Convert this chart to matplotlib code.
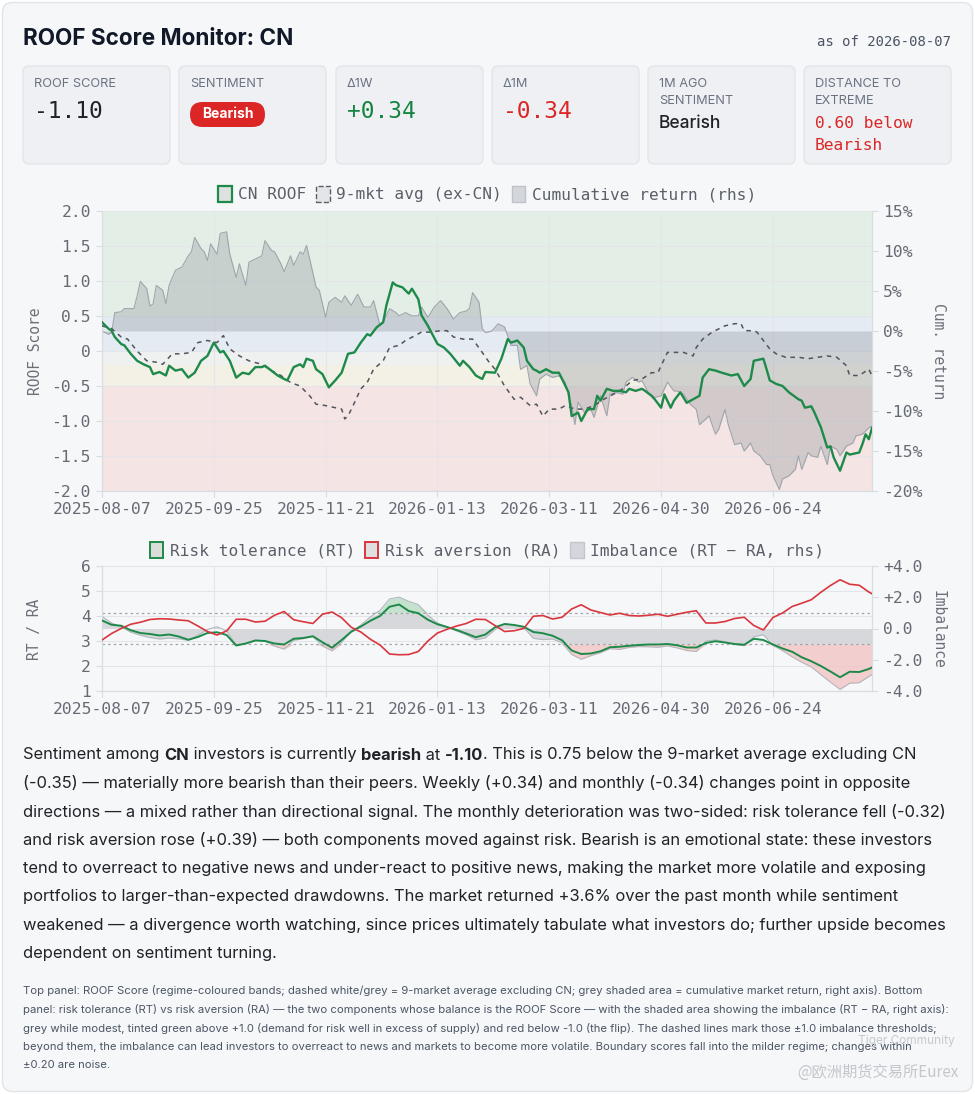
import numpy as np
import matplotlib.pyplot as plt
from matplotlib.patches import FancyBboxPatch, Patch

# ---------------- data ----------------
tick_days = [0, 35, 70, 105, 140, 175, 210]
tick_dates = ['2025-08-07', '2025-09-25', '2025-11-21', '2026-01-13',
              '2026-03-11', '2026-04-30', '2026-06-24']
last_day = 241

# CN ROOF score (trading-day index, value)
roof_day = [0, 2, 3, 4, 6, 7, 9, 11, 13, 15,
            16, 18, 20, 21, 23, 25, 27, 29, 31, 33,
            35, 37, 38, 40, 42, 44, 46, 48, 50, 51,
            53, 55, 57, 58, 60, 62, 63, 64, 66, 67,
            69, 71, 73, 75, 77, 79, 81, 83, 84, 86,
            88, 89, 91, 92, 94, 96, 97, 99, 100, 102,
            105, 107, 109, 112, 113, 115, 117, 119, 120, 123,
            125, 127, 128, 130, 132, 133, 135, 136, 137, 139,
            141, 143, 144, 146, 147, 149, 150, 152, 154, 155,
            156, 158, 160, 162, 164, 165, 167, 169, 170, 172,
            173, 175, 176, 178, 179, 181, 183, 185, 187, 188,
            190, 192, 194, 197, 199, 201, 203, 204, 207, 208,
            209, 211, 213, 215, 218, 219, 220, 222, 223, 225,
            227, 228, 229, 231, 233, 234, 237, 238, 239, 240,
            241]
roof = [0.41, 0.32, 0.29, 0.20, 0.10, 0.08, -0.04, -0.14, -0.19, -0.23,
        -0.33, -0.30, -0.35, -0.21, -0.28, -0.26, -0.38, -0.31, -0.14, -0.07,
        0.12, -0.02, 0.00, -0.14, -0.38, -0.31, -0.33, -0.23, -0.23, -0.21,
        -0.28, -0.35, -0.40, -0.42, -0.23, -0.19, -0.23, -0.11, -0.14, -0.26,
        -0.33, -0.52, -0.42, -0.31, -0.04, -0.02, 0.12, 0.24, 0.22, 0.34,
        0.41, 0.65, 0.98, 0.94, 0.91, 0.82, 0.89, 0.74, 0.51, 0.36,
        0.10, 0.05, -0.04, -0.21, -0.14, -0.23, -0.35, -0.40, -0.30, -0.31,
        -0.11, 0.17, 0.12, 0.15, 0.05, -0.14, -0.26, -0.28, -0.31, -0.26,
        -0.31, -0.31, -0.40, -0.59, -0.93, -0.88, -1.00, -0.83, -0.83, -0.64,
        -0.71, -0.54, -0.57, -0.57, -0.59, -0.54, -0.57, -0.54, -0.57, -0.64,
        -0.69, -0.81, -0.62, -0.81, -0.71, -0.59, -0.74, -0.69, -0.64, -0.38,
        -0.26, -0.28, -0.31, -0.35, -0.33, -0.50, -0.40, -0.14, -0.11, -0.26,
        -0.42, -0.47, -0.50, -0.59, -0.69, -0.71, -0.81, -0.79, -0.88, -1.09,
        -1.38, -1.36, -1.52, -1.71, -1.45, -1.48, -1.45, -1.33, -1.19, -1.26,
        -1.10]

# 9-market average ex-CN
avg_day = [0, 3, 6, 8, 11, 14, 17, 19, 22, 25,
           28, 30, 33, 36, 38, 40, 43, 46, 50, 53,
           56, 59, 62, 65, 67, 70, 73, 75, 76, 77,
           79, 81, 83, 85, 88, 90, 93, 95, 98, 100,
           103, 106, 108, 110, 113, 116, 119, 121, 123, 126,
           129, 131, 134, 136, 138, 140, 143, 145, 148, 151,
           154, 157, 160, 163, 166, 169, 172, 174, 175, 177,
           179, 182, 185, 186, 188, 191, 195, 198, 200, 201,
           204, 205, 207, 209, 211, 214, 218, 221, 224, 227,
           230, 233, 234, 237, 240, 241]
avg = [0.36, 0.32, 0.20, 0.17, 0.00, -0.14, -0.16, -0.19, -0.04, -0.04,
       -0.02, 0.12, 0.15, 0.12, 0.22, 0.03, -0.07, -0.14, -0.19, -0.28,
       -0.35, -0.45, -0.50, -0.64, -0.76, -0.78, -0.81, -0.83, -0.97, -0.93,
       -0.74, -0.54, -0.45, -0.26, -0.14, 0.05, 0.08, 0.15, 0.22, 0.27,
       0.27, 0.29, 0.29, 0.20, 0.17, 0.17, -0.02, -0.15, -0.26, -0.50,
       -0.69, -0.66, -0.78, -0.76, -0.93, -0.83, -0.83, -0.78, -0.83, -0.83,
       -0.78, -0.69, -0.62, -0.54, -0.42, -0.40, -0.31, -0.31, -0.21, -0.02,
       -0.02, -0.02, -0.07, 0.05, 0.17, 0.27, 0.36, 0.39, 0.39, 0.29,
       0.29, 0.27, 0.15, 0.03, -0.04, -0.09, -0.09, -0.11, -0.09, -0.07,
       -0.09, -0.21, -0.35, -0.35, -0.26, -0.35]

# cumulative market return, % (right axis)
ret_day = [0, 2, 3, 4, 6, 7, 10, 11, 12, 14,
           15, 16, 17, 19, 20, 21, 23, 25, 27, 28,
           29, 31, 32, 33, 34, 36, 37, 39, 40, 42,
           43, 45, 46, 48, 50, 51, 53, 54, 56, 57,
           59, 60, 62, 63, 64, 65, 67, 68, 70, 71,
           73, 75, 76, 78, 80, 82, 84, 85, 87, 88,
           90, 92, 93, 95, 97, 99, 100, 102, 104, 106,
           108, 110, 112, 114, 115, 116, 118, 119, 120, 122,
           124, 126, 128, 130, 131, 133, 134, 136, 137, 139,
           141, 143, 145, 147, 148, 149, 151, 153, 154, 156,
           158, 159, 161, 163, 164, 166, 168, 169, 171, 173,
           175, 177, 179, 180, 182, 184, 186, 187, 189, 190,
           192, 193, 195, 196, 198, 200, 201, 203, 204, 206,
           208, 209, 210, 212, 213, 215, 217, 218, 219, 221,
           222, 224, 225, 227, 228, 230, 231, 233, 235, 236,
           238, 240, 241]
ret = [0.0, -0.4, -0.2, 2.3, 2.4, 2.8, 2.8, 4.4, 6.2, 5.3,
       3.1, 3.4, 5.7, 5.1, 3.4, 5.7, 7.6, 8.0, 9.4, 9.9,
       11.7, 10.3, 9.9, 8.8, 10.9, 9.6, 12.2, 12.4, 9.6, 6.7,
       8.4, 5.7, 8.6, 9.0, 9.4, 11.3, 10.1, 9.9, 8.4, 7.4,
       9.4, 8.2, 9.9, 9.6, 10.7, 9.0, 5.5, 5.1, 1.7, 3.6,
       4.2, 3.6, 4.4, 3.2, 4.6, 3.0, 3.0, 3.8, 0.7, 1.1,
       2.8, 2.3, 1.9, 2.3, 1.9, 1.9, 3.0, 1.7, 3.0, 3.8,
       2.8, 1.5, 2.3, 2.5, 2.8, 4.8, 3.6, 0.3, -0.2, 0.0,
       0.9, 0.5, -1.8, -1.8, -4.8, -4.3, -6.6, -8.1, -6.0, -5.4,
       -5.8, -5.6, -6.4, -9.4, -11.7, -8.9, -10.2, -9.8, -10.8, -8.1,
       -10.6, -7.9, -7.7, -7.9, -6.4, -5.8, -6.4, -6.2, -7.7, -8.3,
       -8.1, -6.4, -7.5, -7.5, -7.9, -9.1, -9.8, -11.7, -11.0, -10.6,
       -12.9, -12.3, -9.8, -11.7, -14.2, -14.0, -15.0, -14.0, -15.0, -15.6,
       -16.7, -16.7, -18.1, -19.8, -18.5, -18.1, -17.3, -15.6, -17.3, -15.2,
       -15.6, -15.8, -14.4, -16.7, -14.4, -14.8, -15.6, -14.4, -14.0, -13.1,
       -12.9, -12.1, -11.9]

# risk tolerance / risk aversion, sampled every 3 trading days
comp_day = list(range(0, 241, 3)) + [241]
rt = [3.82, 3.65, 3.61, 3.43, 3.32, 3.28, 3.22, 3.26, 3.18, 3.05,
      3.16, 3.32, 3.35, 3.24, 2.82, 2.90, 3.02, 3.00, 2.90, 2.86,
      3.09, 3.12, 3.19, 2.95, 2.73, 3.04, 3.37, 3.58, 3.81, 4.00,
      4.37, 4.46, 4.20, 4.11, 3.85, 3.67, 3.56, 3.44, 3.30, 3.15,
      3.26, 3.55, 3.68, 3.64, 3.57, 3.36, 3.31, 3.21, 3.03, 2.62,
      2.48, 2.50, 2.59, 2.75, 2.77, 2.81, 2.84, 2.86, 2.86, 2.88,
      2.83, 2.74, 2.74, 2.92, 2.99, 2.94, 2.88, 2.85, 3.09, 3.04,
      2.86, 2.70, 2.57, 2.35, 2.19, 2.00, 1.78, 1.55, 1.77, 1.76,
      1.88, 1.94]
ra = [3.04, 3.30, 3.50, 3.67, 3.75, 3.86, 3.89, 3.88, 3.84, 3.81,
      3.60, 3.38, 3.24, 3.40, 3.87, 3.87, 3.76, 3.79, 4.03, 4.18,
      3.85, 3.77, 3.70, 4.07, 4.16, 3.93, 3.55, 3.36, 3.07, 2.84,
      2.48, 2.45, 2.46, 2.58, 3.00, 3.32, 3.47, 3.60, 3.70, 3.87,
      3.86, 3.62, 3.38, 3.41, 3.50, 3.99, 4.02, 3.88, 3.95, 4.28,
      4.45, 4.24, 4.14, 4.04, 4.11, 4.02, 4.00, 4.03, 4.07, 3.99,
      4.07, 4.15, 4.21, 3.72, 3.72, 3.78, 3.90, 3.95, 3.62, 3.44,
      3.94, 4.12, 4.38, 4.51, 4.65, 4.95, 5.22, 5.45, 5.27, 5.23,
      4.96, 4.89]

# regime bands of the score axis
band_edges = [-2.0, -0.5, -0.2, 0.0, 0.5, 2.0]
band_colors = ['#f5e4e4', '#f3f0e6', '#eff0f0', '#e5ebf3', '#e3efe6']

score_ticks = [-2.0, -1.5, -1.0, -0.5, 0.0, 0.5, 1.0, 1.5, 2.0]
score_labels = ['-2.0', '-1.5', '-1.0', '-0.5', '0', '0.5', '1.0', '1.5', '2.0']
ret_ticks = [-20, -15, -10, -5, 0, 5, 10, 15]
ret_labels = ['-20%', '-15%', '-10%', '-5%', '0%', '5%', '10%', '15%']
comp_ticks = [1, 2, 3, 4, 5, 6]
imb_ticks = [-4, -2, 0, 2, 4]
imb_labels = ['-4.0', '-2.0', '0.0', '+2.0', '+4.0']
imb_threshold = 1.0

card_labels = [['ROOF SCORE'], ['SENTIMENT'], ['Δ1W'], ['Δ1M'],
               ['1M AGO', 'SENTIMENT'], ['DISTANCE TO', 'EXTREME']]

para = [
    [('Sentiment among ', 'normal'), ('CN', 'bold'), (' investors is currently ', 'normal'),
     ('bearish', 'bold'), (' at ', 'normal'), ('-1.10', 'bold'),
     ('. This is 0.75 below the 9-market average excluding CN', 'normal')],
    '(-0.35) — materially more bearish than their peers. Weekly (+0.34) and monthly (-0.34) changes point in opposite',
    'directions — a mixed rather than directional signal. The monthly deterioration was two-sided: risk tolerance fell (-0.32)',
    'and risk aversion rose (+0.39) — both components moved against risk. Bearish is an emotional state: these investors',
    'tend to overreact to negative news and under-react to positive news, making the market more volatile and exposing',
    'portfolios to larger-than-expected drawdowns. The market returned +3.6% over the past month while sentiment',
    'weakened — a divergence worth watching, since prices ultimately tabulate what investors do; further upside becomes',
    'dependent on sentiment turning.',
]
notes = [
    'Top panel: ROOF Score (regime-coloured bands; dashed white/grey = 9-market average excluding CN; grey shaded area = cumulative market return, right axis). Bottom',
    'panel: risk tolerance (RT) vs risk aversion (RA) — the two components whose balance is the ROOF Score — with the shaded area showing the imbalance (RT − RA, right axis):',
    'grey while modest, tinted green above +1.0 (demand for risk well in excess of supply) and red below -1.0 (the flip). The dashed lines mark those ±1.0 imbalance thresholds;',
    'beyond them, the imbalance can lead investors to overreact to news and markets to become more volatile. Boundary scores fall into the milder regime; changes within',
    '±0.20 are noise.',
]

# ---------------- style ----------------
W, H = 975, 1094
MONO = 'DejaVu Sans Mono'
SANS = ['Inter', 'DejaVu Sans']
CJK = ['Noto Sans CJK SC', 'DejaVu Sans']
INK = '#1f2328'
MUTED = '#6b7280'
GREEN = '#1e8a4a'
RED = '#d9363e'
GRID = '#e3e5e9'
plt.rcParams['font.family'] = MONO

fig = plt.figure(figsize=(W / 100, H / 100), dpi=100, facecolor='white')
bg = fig.add_axes([0, 0, 1, 1])
bg.set_xlim(0, W)
bg.set_ylim(H, 0)
bg.axis('off')
r = fig.canvas.get_renderer()

bg.add_patch(FancyBboxPatch((2.5, 2.5), W - 5, H - 5, boxstyle='round,pad=0,rounding_size=10',
                            fc='#f6f7f9', ec='#e1e4e8', lw=1))


def put(x, y, s, size, family=SANS, weight='normal', color=INK, ha='left', va='center', **kw):
    return bg.text(x, y, s, fontsize=size, family=family, weight=weight, color=color,
                   ha=ha, va=va, **kw)


def width_px(s, size, family=SANS, weight='normal'):
    t = bg.text(0, 0, s, fontsize=size, family=family, weight=weight)
    w = t.get_window_extent(renderer=r).width
    t.remove()
    return w


def advance(s, size, weight):
    return width_px('x' + s + 'x', size, weight=weight) - width_px('xx', size, weight=weight)


# header
tsize = 14 * 271 / width_px('ROOF Score Monitor: CN', 14, weight='bold')
put(23, 39, 'ROOF Score Monitor: CN', tsize, weight='bold', color='#111827')
put(951, 42, 'as of 2026-08-07', 10, family=MONO, color='#4b5563', ha='right')

card_x = [23, 179, 336, 492, 648, 804]
for x0, labs in zip(card_x, card_labels):
    bg.add_patch(FancyBboxPatch((x0, 66), 147, 98, boxstyle='round,pad=0,rounding_size=6',
                                fc='#eef0f4', ec='#e2e5ea', lw=1))
    for j, lab in enumerate(labs):
        put(x0 + 11, 84 + 17 * j, lab, 9.2, color=MUTED)

put(34, 112, '-1.10', 16.5, family=MONO, color=INK)
bg.add_patch(FancyBboxPatch((190, 102), 75, 25, boxstyle='round,pad=0,rounding_size=12.5',
                            fc='#dc2626', ec='none'))
put(227.5, 114.5, 'Bearish', 10, weight='bold', color='white', ha='center')
put(347, 112, '+0.34', 16.5, family=MONO, color='#15843f')
put(503, 112, '-0.34', 16.5, family=MONO, color='#dc2626')
put(659, 123, 'Bearish', 12.5, weight=500, color=INK)
put(815, 124, '0.60 below', 11.7, family=MONO, color='#dc2626')
put(815, 145, 'Bearish', 11.7, family=MONO, color='#dc2626')


# ---------------- charts ----------------
def px_axes(x0, y0, x1, y1):
    return fig.add_axes([x0 / W, 1 - y1 / H, (x1 - x0) / W, (y1 - y0) / H])


def style(ax):
    ax.set_facecolor('none')
    ax.spines['top'].set_visible(False)
    for s in ['left', 'right', 'bottom']:
        ax.spines[s].set_color('#d9dce1')
        ax.spines[s].set_linewidth(0.8)
    ax.tick_params(colors='#666b73', labelsize=11.8, length=4, width=0.8, pad=4)
    ax.tick_params(axis='both', color='#d9dce1')


# top panel
ax1 = px_axes(102, 211, 872, 491)
style(ax1)
for lo, hi, c in zip(band_edges[:-1], band_edges[1:], band_colors):
    ax1.axhspan(lo, hi, color=c, lw=0, zorder=0)
ax1.set_xlim(0, last_day)
ax1.set_ylim(-2, 2)
ax1.set_yticks(score_ticks, score_labels)
ax1.set_xticks(tick_days, tick_dates)
ax1.grid(True, color=GRID, lw=0.8)

ax1r = ax1.twinx()
style(ax1r)
ax1r.set_ylim(-20, 15)
ax1r.set_yticks(ret_ticks, ret_labels)
ax1r.fill_between(ret_day, 0, ret, color='#8d939b', alpha=0.33, lw=0)
ax1r.plot(ret_day, ret, color='#a0a5ab', lw=0.8)

ax1s = ax1.twinx()
ax1s.set_ylim(-2, 2)
ax1s.axis('off')
ax1s.plot(avg_day, avg, color='#50555d', lw=1.1, ls=(0, (3, 3)))
ax1s.plot(roof_day, roof, color=GREEN, lw=1.7)

h_top = [Patch(fc='#dde2e0', ec=GREEN, lw=1.6, label='CN ROOF'),
         Patch(fc='#e3e5e8', ec='#5a5f66', lw=1.0, ls='--', label='9-mkt avg (ex-CN)'),
         Patch(fc='#d3d6db', ec='#bfc3c8', lw=1.0, label='Cumulative return (rhs)')]
fig.legend(handles=h_top, loc='center', bbox_to_anchor=(487 / W, 1 - 194 / H), ncol=3,
           frameon=False, fontsize=11.6, handlelength=0.85, handleheight=1.15,
           handletextpad=0.4, columnspacing=0.6, labelcolor='#5b6068')

# bottom panel
imb = np.array(rt) - np.array(ra)
ax2 = px_axes(102, 566, 872, 691)
style(ax2)
ax2.set_xlim(0, last_day)
ax2.set_ylim(1, 6)
ax2.set_yticks(comp_ticks)
ax2.set_xticks(tick_days, tick_dates)
ax2.grid(True, color=GRID, lw=0.8)

ax2r = ax2.twinx()
style(ax2r)
ax2r.set_ylim(-4, 4)
ax2r.set_yticks(imb_ticks, imb_labels)
ax2r.fill_between(comp_day, 0, np.clip(imb, -imb_threshold, imb_threshold),
                  color='#d3d5d9', alpha=0.9, lw=0)
ax2r.fill_between(comp_day, imb_threshold, np.maximum(imb, imb_threshold),
                  color='#b5dcc0', alpha=0.75, lw=0)
ax2r.fill_between(comp_day, -imb_threshold, np.minimum(imb, -imb_threshold),
                  color='#f2c4c4', alpha=0.8, lw=0)
ax2r.plot(comp_day, imb, color='#b4b8be', lw=0.8)
for t in (imb_threshold, -imb_threshold):
    ax2r.axhline(t, color='#a0a5ac', lw=0.9, ls=(0, (2, 2.5)))

ax2s = ax2.twinx()
ax2s.set_ylim(1, 6)
ax2s.axis('off')
ax2s.plot(comp_day, rt, color=GREEN, lw=1.4)
ax2s.plot(comp_day, ra, color=RED, lw=1.2)

h_bot = [Patch(fc='#d9dedb', ec=GREEN, lw=1.4, label='Risk tolerance (RT)'),
         Patch(fc='#dfdfe1', ec=RED, lw=1.4, label='Risk aversion (RA)'),
         Patch(fc='#d3d6db', ec='#c3c7cc', lw=1.0, label='Imbalance (RT − RA, rhs)')]
fig.legend(handles=h_bot, loc='center', bbox_to_anchor=(487 / W, 1 - 550 / H), ncol=3,
           frameon=False, fontsize=11.6, handlelength=0.85, handleheight=1.15,
           handletextpad=0.4, columnspacing=0.6, labelcolor='#5b6068')

# axis titles
put(35, 351, 'ROOF Score', 10.5, family=MONO, color='#6b7078', ha='center', rotation=90)
put(938, 351, 'Cum. return', 10.5, family=MONO, color='#6b7078', ha='center', rotation=270)
put(35, 629, 'RT / RA', 10.5, family=MONO, color='#6b7078', ha='center', rotation=90)
put(938, 629, 'Imbalance', 10.5, family=MONO, color='#6b7078', ha='center', rotation=270)

# ---------------- commentary ----------------
psize = 12 * 924 / width_px(para[2], 12)
for i, line in enumerate(para):
    y = 755 + i * 28.4
    if isinstance(line, str):
        put(23, y, line, psize)
    else:
        x = 23
        for s, w in line:
            put(x, y, s, psize, weight=w)
            x += advance(s, psize, w)

nsize = 9 * 928 / width_px(notes[1], 9)
for i, line in enumerate(notes):
    put(23, 991 + i * 18.6, line, nsize, color='#4b5563')

# platform watermark
put(955, 1041, 'Tiger Community', 8.5, color='#c6c9ce', ha='right')
put(958, 1072, '@欧洲期货交易所Eurex', 11, family=CJK, color='#c3c6cb', ha='right')

fig.savefig('out.png', dpi=100, facecolor=fig.get_facecolor())
